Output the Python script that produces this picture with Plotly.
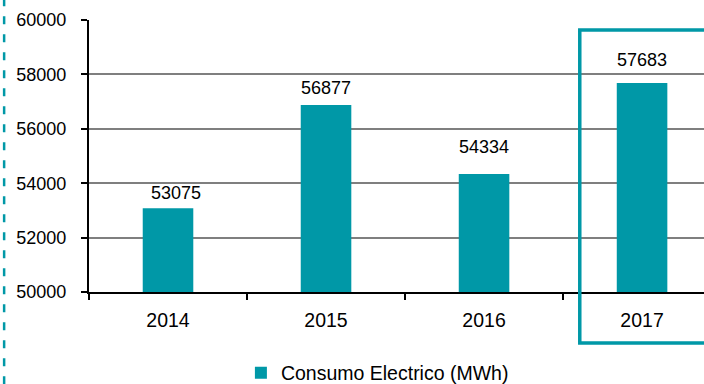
import plotly.graph_objects as go

# Annual electricity consumption
years = ["2014", "2015", "2016", "2017"]
consumption = [53075, 56877, 54334, 57683]
series_name = "Consumo Electrico (MWh)"
y_ticks = [50000, 52000, 54000, 56000, 58000, 60000]

# label placement tweaks (pixels)
label_dx = [8, 0, 0, 0]
label_dy = [15, 16.5, 27.5, 23.5]

TEAL = "#0098A7"
FONT = "Liberation Sans, Arial, sans-serif"

fig = go.Figure()
fig.add_trace(go.Bar(
    x=years, y=consumption, name=series_name,
    marker=dict(color=TEAL, line=dict(width=0)),
    width=0.32, showlegend=True,
))

# value labels above bars (category index positions)
for i, (val, dx, dy) in enumerate(zip(consumption, label_dx, label_dy)):
    fig.add_annotation(
        x=i, y=val, xref="x", yref="y", text=str(val), showarrow=False,
        xanchor="center", yanchor="middle", xshift=dx, yshift=dy,
        font=dict(family=FONT, size=18, color="#000000"),
    )

# dashed frame edge on the left
fig.add_shape(type="line", xref="paper", yref="paper",
              x0=-0.138, x1=-0.138, y0=1.08, y1=-0.35,
              line=dict(color=TEAL, width=2.5, dash="8px,10px"))
# highlight box around the latest year
fig.add_shape(type="rect", xref="paper", yref="paper",
              x0=0.798, x1=1.05, y0=0.963, y1=-0.1875,
              line=dict(color=TEAL, width=3.5), fillcolor="rgba(0,0,0,0)")

fig.update_layout(
    width=704, height=384,
    margin=dict(l=89, r=0, t=20, b=92, autoexpand=False),
    paper_bgcolor="white", plot_bgcolor="white",
    font=dict(family=FONT, size=18, color="#000000"),
    bargap=0.68,
    showlegend=True,
    legend=dict(orientation="h", x=0.247, xanchor="left",
                y=-0.298, yanchor="middle",
                font=dict(family=FONT, size=19.5, color="#000000"),
                bgcolor="rgba(0,0,0,0)"),
    xaxis=dict(type="category", range=[-0.5, 3.392],
               showline=True, linecolor="#000000", linewidth=2,
               ticks="outside", tickson="boundaries", ticklen=6,
               tickcolor="#000000", tickwidth=2,
               tickfont=dict(size=19.5),
               showgrid=False, ticklabelstandoff=10),
    yaxis=dict(range=[50000, 60000], tickvals=y_ticks, tickformat="d",
               showline=True, linecolor="#000000", linewidth=2,
               ticks="outside", ticklen=6, tickcolor="#000000", tickwidth=2,
               showgrid=True, gridcolor="#7f7f7f", gridwidth=1.5,
               zeroline=False, ticklabelstandoff=11),
)

fig.write_html("out.html")
